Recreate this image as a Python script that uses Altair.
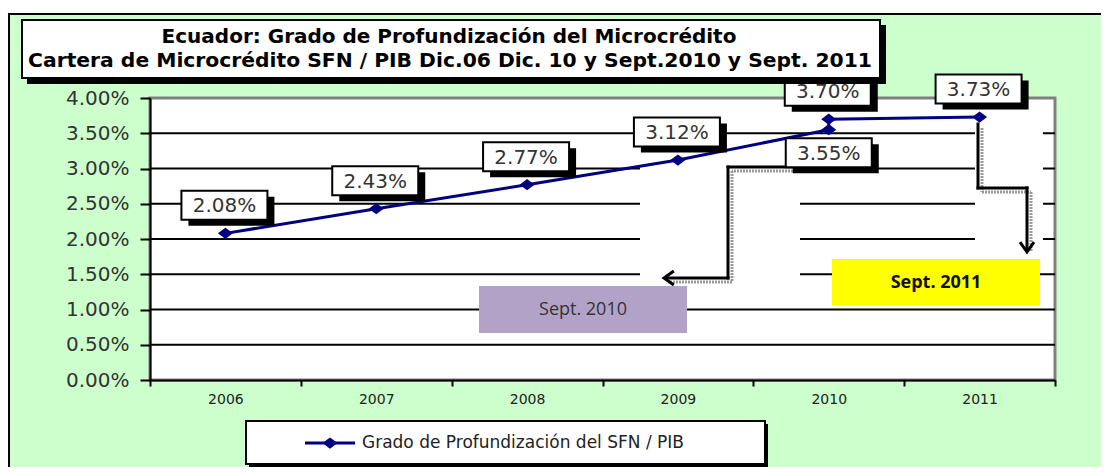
import altair as alt
import pandas as pd

# ---------------- data ----------------
years = ["2006", "2007", "2008", "2009", "2010", "2010", "2011"]
values = [0.0208, 0.0243, 0.0277, 0.0312, 0.0355, 0.0370, 0.0373]
labels = ["2.08%", "2.43%", "2.77%", "3.12%", "3.55%", "3.70%", "3.73%"]
seq = [1, 2, 3, 4, 5, 6, 7]
year_domain = ["2006", "2007", "2008", "2009", "2010", "2011"]
y_ticks = [0.0, 0.005, 0.01, 0.015, 0.02, 0.025, 0.03, 0.035, 0.04]
grid_values = [0.005, 0.01, 0.015, 0.02, 0.025, 0.03, 0.035]

title1 = "Ecuador: Grado de Profundización del Microcrédito"
title2 = "Cartera de Microcrédito SFN / PIB Dic.06  Dic. 10 y Sept.2010 y Sept.  2011"
legend_label = "Grado de Profundización del SFN / PIB"
note1 = "Sept. 2010"
note2 = "Sept. 2011"

df = pd.DataFrame({"year": years, "value": values, "label": labels, "seq": seq})
grid_df = pd.DataFrame({"value": grid_values})
one = pd.DataFrame({"k": [0]})

# ---------------- layout ----------------
W, H = 905, 282
OX, OY = 150, 98          # page position of plot-area origin
CW, CH = 1093, 459        # canvas size
PAD = {"left": OX - 8, "top": OY - 8, "right": CW - (OX - 8) - W, "bottom": CH - (OY - 8) - H}

NAVY = "#000080"
GREEN = "#ccffcc"
BOX = "M-1,-0.337L1,-0.337L1,0.337L-1,0.337Z"
DIAMOND = "M-1,0L0,-0.75L1,0L0,0.75Z"
HEAD_LEFT = "M1.4,-1L0,0L1.4,1"
HEAD_DOWN = "M-1,-1.4L0,0L1,-1.4"


def rx(x):
    return x - OX


def ry(y):
    return y - OY


def rect(x1, y1, x2, y2, **kw):
    return alt.Chart(one).mark_rect(**kw).encode(
        x=alt.value(rx(x1)), x2=alt.value(rx(x2)), y=alt.value(ry(y1)), y2=alt.value(ry(y2)))


def seg(x1, y1, x2, y2, **kw):
    return alt.Chart(one).mark_rule(**kw).encode(
        x=alt.value(rx(x1)), x2=alt.value(rx(x2)), y=alt.value(ry(y1)), y2=alt.value(ry(y2)))


def ptext(x, y, text, **kw):
    return alt.Chart(one).mark_text(text=text, **kw).encode(x=alt.value(rx(x)), y=alt.value(ry(y)))


def sym(x, y, shape, size, **kw):
    return alt.Chart(one).mark_point(shape=shape, size=size, **kw).encode(
        x=alt.value(rx(x)), y=alt.value(ry(y)))


x_axis = alt.Axis(tickBand="extent", domainColor="black", domainWidth=2, tickColor="black",
                  tickWidth=2, tickSize=6, labelFont="DejaVu Sans", labelFontSize=14,
                  labelColor="#222", labelPadding=6, grid=False, zindex=1, labelAngle=0)
y_axis = alt.Axis(values=y_ticks, format=".2%", domainColor="black", domainWidth=2,
                  tickColor="black", tickWidth=2, tickSize=10, labelFont="DejaVu Sans",
                  labelFontSize=20, labelColor="#333", labelPadding=11, grid=False, zindex=1)

x_enc = alt.X("year:N", scale=alt.Scale(type="band", domain=year_domain, paddingInner=0,
                                          paddingOuter=0), bandPosition=0.5, axis=x_axis, title=None)
y_enc = alt.Y("value:Q", scale=alt.Scale(domain=[0, 0.04], nice=False), axis=y_axis, title=None)

# ---------------- background pieces ----------------
frame = rect(9, 14, 1130, 500, fill=GREEN, stroke="black", strokeWidth=2)
plot_bg = rect(OX, OY, OX + W, OY + H, fill="white", stroke="#808080", strokeWidth=3)

gridlines = alt.Chart(grid_df).mark_rule(color="black", strokeWidth=2).encode(
    y=y_enc, x=alt.value(0), x2=alt.value(W))

occl1 = rect(640, 160, 800, 290, fill="white")
occl2 = rect(975, 120, 1043, 262, fill="white")

# title box
title_shadow = rect(27, 25, 886, 84, fill="black")
title_box = rect(22, 20, 880, 78, fill="white", stroke="black", strokeWidth=2)
title_t1 = ptext(449, 43, title1, font="DejaVu Sans", fontWeight="bold", fontSize=20,
                 color="black", baseline="alphabetic", align="center")
title_t2 = ptext(450, 67, title2, font="DejaVu Sans", fontWeight="bold", fontSize=20.3,
                 color="black", baseline="alphabetic", align="center")

# note boxes
note1_box = rect(479, 286, 687, 333, fill="#b3a2c7")
note1_txt = ptext(583, 310, note1, font="Open Sans", fontSize=18, color="#333",
                  baseline="middle", align="center")
note2_box = rect(832, 259, 1040, 305, fill="#ffff00")
note2_txt = ptext(936, 283, note2, font="Open Sans", fontWeight="bold", fontSize=18,
                  color="#111", baseline="middle", align="center")

# connectors
SH = dict(color="#9a9a9a", strokeWidth=3, strokeDash=[2, 1])
CN = dict(color="black", strokeWidth=3, strokeCap="square")
conn = [
    seg(796, 171, 732, 171, **SH), seg(732, 171, 732, 282, **SH), seg(732, 282, 668, 282, **SH),
    seg(982, 128, 982, 192, **SH), seg(982, 192, 1031, 192, **SH), seg(1031, 192, 1031, 252, **SH),
    seg(793, 167, 728, 167, **CN), seg(728, 167, 728, 278, **CN), seg(728, 278, 666, 278, **CN),
    seg(978, 124, 978, 188, **CN), seg(978, 188, 1027, 188, **CN), seg(1027, 188, 1027, 250, **CN),
    sym(664, 278, HEAD_LEFT, 196, filled=False, stroke="black", strokeWidth=3, opacity=1),
    sym(1027, 252, HEAD_DOWN, 196, filled=False, stroke="black", strokeWidth=3, opacity=1),
]

# ---------------- data layers ----------------
base = alt.Chart(df)
above = "datum.label != '3.55%'"
below = "datum.label == '3.55%'"


def label_layers(flt, dx, dy):
    b = base.transform_filter(flt)
    shadow = b.mark_point(shape=BOX, size=7396, filled=True, fill="black", opacity=1,
                          strokeWidth=0, xOffset=dx + 7, yOffset=dy + 6).encode(x=x_enc, y=y_enc)
    box = b.mark_point(shape=BOX, size=7396, filled=True, fill="white", stroke="black",
                       strokeWidth=2, opacity=1, xOffset=dx, yOffset=dy).encode(x=x_enc, y=y_enc)
    txt = b.mark_text(font="DejaVu Sans", fontSize=20, color="#333", baseline="middle",
                      align="center", xOffset=dx, yOffset=dy + 1).encode(
        x=x_enc, y=y_enc, text="label:N")
    return [shadow, box, txt]


line = base.mark_line(color=NAVY, strokeWidth=3).encode(x=x_enc, y=y_enc, order="seq:Q")
pts = base.mark_point(shape=DIAMOND, size=225, filled=True, color=NAVY, opacity=1).encode(
    x=x_enc, y=y_enc)

# legend
leg_shadow = rect(249, 424, 768, 467, fill="black")
leg_box = rect(246, 421, 765, 464, fill="white", stroke="black", strokeWidth=2)
leg_line = seg(305, 443, 355, 443, color=NAVY, strokeWidth=3)
leg_pt = sym(330, 443, DIAMOND, 225, filled=True, color=NAVY, opacity=1)
leg_txt = ptext(362, 443, legend_label, font="DejaVu Sans", fontSize=17, color="#222",
                baseline="middle", align="left")

layers = ([frame, plot_bg, gridlines, occl1, occl2, note1_box, note1_txt, note2_box, note2_txt]
          + conn
          + [line]
          + label_layers(above, -1, -28) + label_layers(below, 0, 23)
          + [pts, title_shadow, title_box, title_t1, title_t2,
             leg_shadow, leg_box, leg_line, leg_pt, leg_txt])

chart = alt.layer(*layers).properties(
    width=W, height=H, padding=PAD, autosize=alt.AutoSizeParams(type="none"),
    background="white"
).configure_view(stroke=None)

chart.save("out.html", embed_options={"renderer": "svg", "actions": False})
